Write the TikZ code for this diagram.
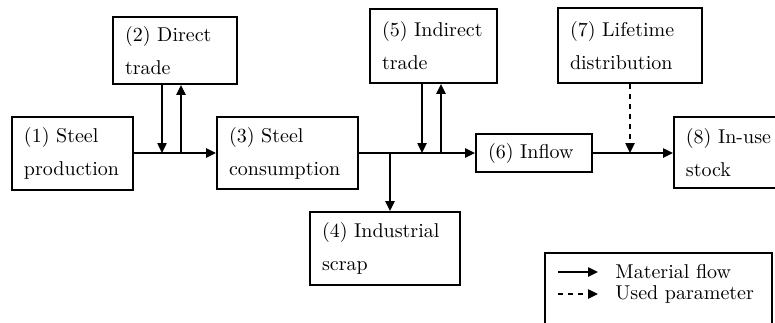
\documentclass[tikz,border=0pt]{standalone}
\usepackage{tikz}
\usetikzlibrary{arrows.meta}

\begin{document}
\begin{tikzpicture}[x=0.5pt,y=-0.5pt,
	box/.style={draw, line width=0.9pt, rectangle, align=left, inner xsep=6pt, inner ysep=0pt, font=\fontsize{10}{16.5}\selectfont},
	flow/.style={line width=0.9pt, -{Triangle[length=5pt,width=4.6pt]}},
	param/.style={flow, dash pattern=on 2.6pt off 2.4pt}]
	\path [use as bounding box] (0,0) rectangle (775,322);
	\clip (0,0) rectangle (775,322);
	\node [box, text width=48.5pt, minimum height=36.5pt] (prod) at (72.5,153.5){(1) Steel\\production};
	\node [box, text width=50pt, minimum height=33.5pt] (dtrade) at (175,50.5){(2) Direct\\trade};
	\node [box, text width=58.5pt, minimum height=36pt] (cons) at (287.5,153){(3) Steel\\consumption};
	\node [box, text width=63pt, minimum height=36.5pt] (scrap) at (385,248.5){(4) Industrial\\scrap};
	\node [box, text width=51.5pt, minimum height=37pt] (itrade) at (433.5,46){(5) Indirect\\trade};
	\node [box, text width=46pt, minimum height=19pt] (inflow) at (534,153){(6) Inflow};
	\node [box, text width=60pt, minimum height=37.5pt] (life) at (630,45.5){(7) Lifetime\\distribution};
	\node [box, text width=52pt, minimum height=35.5pt, anchor=west] (stock) at (673,152.5){(8) In-use\\stock};
	\draw [flow](prod.east |- 0,153)--(cons.west |- 0,153);
	\draw [flow](dtrade.south -| 162,0)--(162,153);
	\draw [flow](181,153)--(dtrade.south -| 181,0);
	\draw [flow](cons.east)--(inflow.west);
	\draw [flow](390,153)--(scrap.north -| 390,0);
	\draw [flow](itrade.south -| 422,0)--(422,153);
	\draw [flow](441,153)--(itrade.south -| 441,0);
	\draw [flow](inflow.east)--(stock.west |- 0,153);
	\draw [param](life.south)--(life.south |- 0,153);
	\node [draw, line width=0.9pt, anchor=north west, minimum width=113.5pt, minimum height=45pt] (legend) at (544,252){};
	\node [anchor=west, inner sep=0pt] (lflow) at (615,272){Material flow};
	\node [anchor=west, inner sep=0pt] (lparam) at (615,294){Used parameter};
	\draw [flow]([xshift=-28.5pt]lflow.west)--([xshift=-8.5pt]lflow.west);
	\draw [param]([xshift=-28.5pt]lparam.west)--([xshift=-8.5pt]lparam.west);
\end{tikzpicture}
\end{document}
